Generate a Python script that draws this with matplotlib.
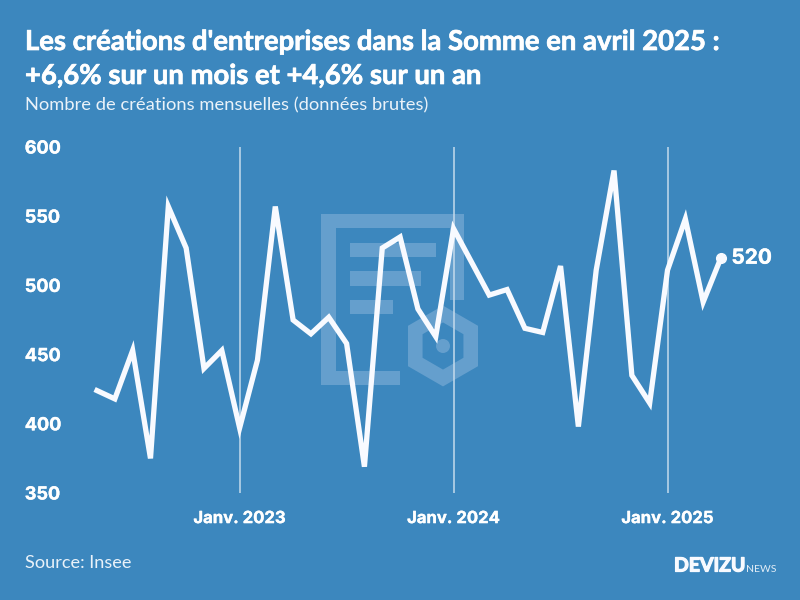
import matplotlib
matplotlib.use("Agg")
import matplotlib.pyplot as plt
import matplotlib.patheffects as pe
from matplotlib.patches import Rectangle, RegularPolygon, Circle

months = list(range(36))
values = [424, 418, 453, 375, 557, 527, 440, 453, 397, 446, 557, 475,
          465, 477, 458, 369, 527, 535, 483, 463, 541, 517, 493, 497,
          469, 466, 514, 398, 511, 583, 435, 415, 511, 548, 488, 520]
year_positions = [8, 20, 32]
year_labels = ["Janv. 2023", "Janv. 2024", "Janv. 2025"]
y_ticks = [350, 400, 450, 500, 550, 600]

BG = "#3C87BE"
WM = "#659FCD"
plt.rcParams["font.family"] = ["Lato", "DejaVu Sans"]
TICK_FONT = ["Inter", "DejaVu Sans"]
HEAVY = [pe.withStroke(linewidth=0.5, foreground="white")]
MEDIUM = [pe.withStroke(linewidth=0.25, foreground="white")]

fig = plt.figure(figsize=(8, 6), dpi=100, facecolor=BG)

# Watermark layer in pixel coordinates
bg = fig.add_axes([0, 0, 1, 1], zorder=0)
bg.set_xlim(0, 800)
bg.set_ylim(600, 0)
bg.axis("off")
for x0, y0, x1, y1 in [(321, 214, 464, 228), (321, 228, 336, 385), (336, 371, 400, 385),
                       (450, 228, 464, 300), (350, 243, 436, 257), (350, 271, 421, 286),
                       (350, 300, 393, 314)]:
    bg.add_patch(Rectangle((x0, y0), x1 - x0, y1 - y0, fc=WM, ec="none"))
bg.add_patch(RegularPolygon((443, 346), 6, radius=32, fc="none", ec=WM, lw=10.5))
bg.add_patch(Circle((443, 346), 7, fc=WM, ec="none"))

# Chart
ax = fig.add_axes([97 / 800, 1 - 493 / 600, (721 - 97) / 800, (493 - 147) / 600], zorder=1)
ax.patch.set_alpha(0)
ax.set_xlim(0, 35)
ax.set_ylim(350, 600)
for s in ax.spines.values():
    s.set_visible(False)
ax.vlines(year_positions, 350, 600, color="#C5DBEC", lw=1.1, zorder=1)
ax.plot(months, values, color="#F8FAFF", lw=3.8, solid_joinstyle="miter", clip_on=False, zorder=3)
ax.plot(months[-1], values[-1], "o", color="#F8FAFF", ms=7, clip_on=False, zorder=4)
ann = ax.annotate(str(values[-1]), (months[-1], values[-1]), xytext=(7.5, 0), textcoords="offset points",
                  color="white", fontsize=15, fontweight="bold", family=TICK_FONT, va="center", ha="left")
ann.set_path_effects(MEDIUM)

ax.set_yticks(y_ticks)
ax.set_yticklabels([str(v) for v in y_ticks], color="white", fontsize=13, fontweight="bold",
                   family=TICK_FONT, ha="left", path_effects=MEDIUM)
ax.tick_params(axis="y", length=0, pad=52)
ax.set_xticks(year_positions)
ax.set_xticklabels(year_labels, color="white", fontsize=12, fontweight="bold", family=TICK_FONT,
                   path_effects=MEDIUM)
ax.tick_params(axis="x", length=0, pad=13)

fig.text(25 / 800, 1 - 42 / 600, "Les créations d'entreprises dans la Somme en avril 2025 :",
         color="white", fontsize=19.77, fontweight="bold", va="center", ha="left", path_effects=HEAVY)
fig.text(25 / 800, 1 - 76 / 600, "+6,6% sur un mois et +4,6% sur un an",
         color="white", fontsize=19.77, fontweight="bold", va="center", ha="left", path_effects=HEAVY)
fig.text(25 / 800, 1 - 105 / 600, "Nombre de créations mensuelles (données brutes)",
         color="#EAF2F9", fontsize=13.2, va="center", ha="left")
fig.text(25 / 800, 1 - 563 / 600, "Source: Insee", color="#EAF2F9", fontsize=13.1, va="center", ha="left")
fig.text(674 / 800, 1 - 566 / 600, "DEVIZU", color="#F8FAFF", fontsize=14, fontweight="bold",
         va="center", ha="left", path_effects=[pe.withStroke(linewidth=0.9, foreground="#F8FAFF")])
fig.text(746 / 800, 1 - 570 / 600, "NEWS", color="#E4EEF7", fontsize=7.5, va="center", ha="left")

fig.savefig("out.png", dpi=100, facecolor=BG)
